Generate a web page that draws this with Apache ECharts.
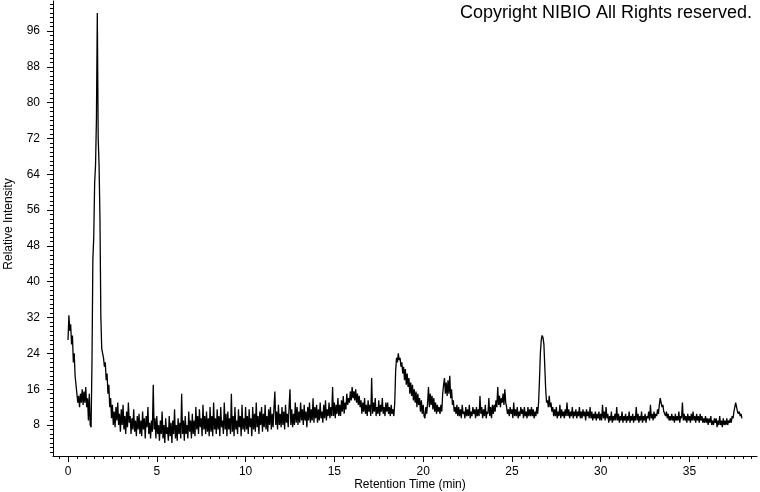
<!DOCTYPE html>
<html>
<head>
<meta charset="utf-8">
<script src="https://cdn.jsdelivr.net/npm/echarts@6/dist/echarts.min.js"></script>
<style>
html,body{margin:0;padding:0;background:#fff;}
#chart{width:760px;height:492px;}
</style>
</head>
<body>
<div id="chart"></div>
<script>
const sampleStart = 0;      // min
const sampleStep = 0.05;    // min
const seg00 = [27,32.5,29,30.5,26,28,22,24,19,17,15,13,14.5,12,15,13,16,12.5,15.5,13,16.5,12,14,9,15,8,7.5,22,45,50,62,66,76,100,72,66,54,32,25,24];
const seg02 = [23,21,22,18,19.5,15,17,12,14,9.5,12.5,8,11,7.5,12,9,13,8,10.5,6.5,11.5,8,12.5,7,10,6,11,7.5,13,8.5,10,6,9.5,7,11.5,6.5,9,5.5,10,7];
const seg04 = [10.5,6,9,5.5,11,7,9.5,5,10,7.5,12,6,8.5,5,9,6.5,17,7,9.5,5,10,6,8,4.5,9,6,11,5,8,4,9.5,6,7.5,4.5,10,5.5,8.5,4,9,6];
const seg06 = [11.5,5,8,4.5,9.5,6,8.5,5,15,6,9,4.5,10,6,8,5,11,6.5,9,5,10.5,6,9,5.5,12,7,10,6,11.5,7.5,9.5,5.5,12.5,7,10,6,11,6.5,9.5,5.5];
const seg08 = [12,6.5,10,5.5,13,7,9.5,6,11.5,7,10,5.5,12,7.5,9,6,13,7,10.5,5.5,11,7,9.5,6,15,6.5,10,5.5,12,7,9,6,11.5,7.5,10,5.5,12.5,7,9.5,6.5];
const seg10 = [12,7,10,6,11.5,7.5,9.5,5.5,12,7,10.5,6.5,13,7.5,10,6,11,8,12,6.5,10.5,7.5,12.5,7,10,6.5,11.5,8,12,7,10.5,7.5,12,15.5,8,11,7,12.5,8,10.5];
const seg12 = [7.5,12,8,11,7,12.5,8.5,10.5,7.5,12,16,8,11.5,7.5,10.5,8,13,8.5,12,8,11,8.5,13,9,11.5,8,12.5,9,11,7.5,12,9,13,8.5,11.5,9,14,8.5,12,9.5];
const seg14 = [12.5,8.5,11.5,9,13,9.5,11,8.5,12.5,9.5,13.5,9,11.5,10,13,9.5,12,10,16.5,10,13,9.5,12.5,10.5,14,10,12.5,10,13.5,11,14.5,10.5,13,11.5,15,12.5,14,13,15.5,13.5];
const seg16 = [16.5,14,15.5,13.5,16,13,15,12.5,14.5,12,13.5,10.5,13,11,14,10.5,12.5,10,13.5,11,12.5,10,18.5,10.5,13,11,14,10,12,10.5,13.5,10,12.5,11,14,10.5,12,10,13,11];
const seg18 = [13,10.5,12,10,12.5,10.5,11.5,10,13,20,23,22,24,22.5,23,21,22,19.5,21,18,20.5,17,19.5,16.5,18.5,15,17.5,14.5,17,13.5,16,13,15.5,12,15,12.5,14,11,13.5,10.5];
const seg20 = [12.5,10,9.5,12,10.5,13,16.5,12,15,12.5,14.5,11.5,14,11,13,10.5,12.5,11,12,10.5,12.5,11,15,17,18.5,15,17.5,14.5,18,15,19,14,16,12.5,13.5,11,12,10.5,12.5,10];
const seg22 = [12,10,11.5,9.5,12.5,10.5,11,9.5,12,10,11.5,10,12.5,9.5,11,10,12,10.5,11.5,9.5,12,10,11.5,10,14.5,10.5,12,9.5,11.5,10,12.5,9.5,11,10.5,14,10,12,9.5,12.5,10.5];
const seg24 = [12.5,11,13.5,12,16.5,12.5,14.5,12,14,13,15,12.5,16,13,12,10.5,11.5,10,12,10.5,11.5,9.5,13,10,11.5,10,12,9.5,11,10,12,10.5,11.5,9.5,12,10,11,9.5,12,10];
const seg26 = [11.5,10,12,10,11.5,9.5,11,10,12,10.5,13,18,24,27,28,27.5,26,21,16,13,13.5,12,14.5,12,13,11,12,10,11.5,10,12,9.5,11,10,12.5,9.5,11.5,10,11,9.5];
const seg28 = [11.5,10,13,10,11.5,9.5,11,10,12,9.5,11,10,11.5,9.5,11,10,12,9.5,11,9.5,11.5,10,11,9,11.5,10,11,9.5,12,9.5,11,9,10.5,9.5,11,9,10.5,9.5,11,9];
const seg30 = [10.5,9,12.5,9.5,11,9,12,9.5,10.5,8.5,10,9,11,8.5,10,9,10.5,9,12,9,10.5,8.5,10,9,11,8.5,10,9,10.5,8.5,10,9,11,8.5,10,9,10.5,8.5,10,9];
const seg32 = [12,9,10.5,8.5,10,9,11,8.5,10,9,10.5,8.5,10,9.5,11,9,12.5,9.5,10.5,9,11,9.5,10.5,10,11.5,10.5,12.5,14,13,12,12.5,11,10.5,10,11,9.5,10.5,9,10,9];
const seg34 = [10.5,9,10,8.5,10.5,9,10,9,11,8.5,10,9.5,13,9,10.5,9,10,8.5,10.5,9,10,8.5,10.5,9,11,9,10,8.5,10.5,9,10,8.5,10.5,9,10,8.5,9.5,8.5,10,8.5];
const seg36 = [9.5,8,9.5,8.5,10,8,9,8,9.5,8.5,9.5,7.5,9,8,10,8,9,7.5,9.5,8,9,8,9.5,8,9,8.5,9.5,8.5,10,9.5,11,12,13,12,11,10.5,11,10,10.5,9.5];

// ---- axis ticks ----
const xTickValues = [0,5,10,15,20,25,30,35];
const yTickValues = [8,16,24,32,40,48,56,64,72,80,88,96];
const xMin = -0.845, xMax = 38.8;
const yMin = 1.08, yMax = 102.7;

const intensity = [].concat(seg00,seg02,seg04,seg06,seg08,seg10,seg12,seg14,seg16,seg18,
  seg20,seg22,seg24,seg26,seg28,seg30,seg32,seg34,seg36);
const seriesData = intensity.map((v,i)=>[+(sampleStart + i*sampleStep).toFixed(2), v]);

const xMinor = []; for (let t = -0.5; t <= xMax; t += 0.5) xMinor.push(+t.toFixed(2));
const yMinor = []; for (let v = 2; v <= yMax; v += 1) yMinor.push(v);

const FONT = 'Liberation Sans, Arial, sans-serif';
const axisLine = {show:true, onZero:false, lineStyle:{color:'#000', width:1}};

const chart = echarts.init(document.getElementById('chart'), null, {renderer:'canvas'});
chart.setOption({
  animation:false,
  backgroundColor:'#fff',
  grid:{left:53, right:3, top:1, bottom:36, containLabel:false},
  xAxis:[
    {type:'value', min:xMin, max:xMax, position:'bottom', axisLine:axisLine, splitLine:{show:false},
     axisTick:{show:true, customValues:xTickValues, length:6, lineStyle:{color:'#000'}},
     axisLabel:{show:true, customValues:xTickValues, margin:10, color:'#000', fontSize:12, fontFamily:FONT}},
    {type:'value', min:xMin, max:xMax, position:'bottom', axisLine:{show:false, onZero:false}, splitLine:{show:false},
     axisTick:{show:true, customValues:xMinor, length:3, lineStyle:{color:'#000'}},
     axisLabel:{show:false}}
  ],
  yAxis:[
    {type:'value', min:yMin, max:yMax, position:'left', axisLine:axisLine, splitLine:{show:false},
     axisTick:{show:true, customValues:yTickValues, length:6, lineStyle:{color:'#000'}},
     axisLabel:{show:true, customValues:yTickValues, margin:13, color:'#000', fontSize:12, fontFamily:FONT}},
    {type:'value', min:yMin, max:yMax, position:'left', axisLine:{show:false, onZero:false}, splitLine:{show:false},
     axisTick:{show:true, customValues:yMinor, length:3, lineStyle:{color:'#000'}},
     axisLabel:{show:false}}
  ],
  graphic:[
    {type:'text', x:752, y:4, style:{text:'Copyright NIBIO All Rights reserved.', align:'right', verticalAlign:'top', fill:'#000', font:'18px '+FONT}},
    {type:'text', x:410, y:485, style:{text:'Retention Time (min)', align:'center', verticalAlign:'middle', fill:'#000', font:'12px '+FONT}},
    {type:'text', x:9, y:224, rotation:Math.PI/2, style:{text:'Relative Intensity', align:'center', verticalAlign:'middle', fill:'#000', font:'12px '+FONT}}
  ],
  series:[{
    type:'line', xAxisIndex:0, yAxisIndex:0, data:seriesData, showSymbol:false, symbol:'none',
    lineStyle:{color:'#000', width:1.3}, silent:true, clip:true
  }]
});
</script>
</body>
</html>
